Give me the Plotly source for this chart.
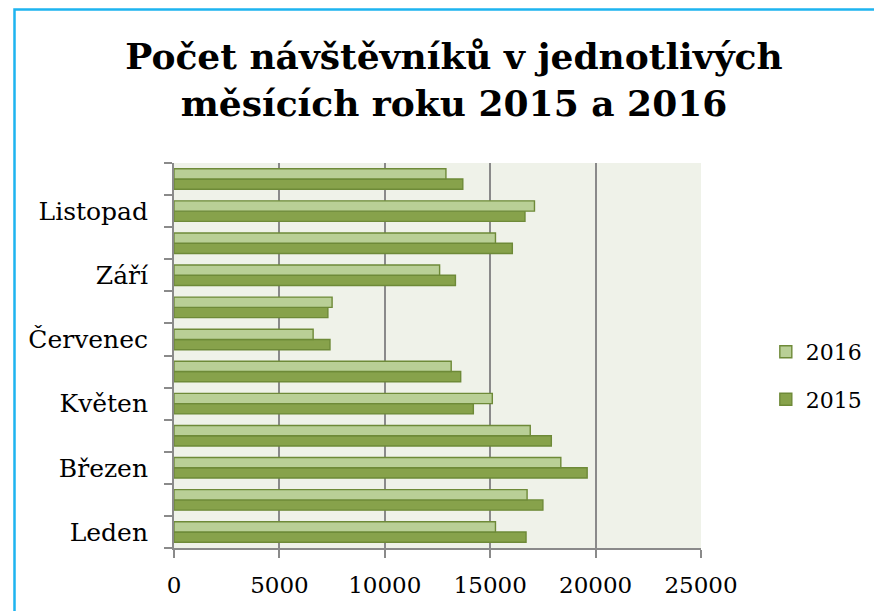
import plotly.graph_objects as go

months = ["Leden", "Únor", "Březen", "Duben", "Květen", "Červen",
          "Červenec", "Srpen", "Září", "Říjen", "Listopad", "Prosinec"]
tick_text = ["Leden", "", "Březen", "", "Květen", "",
             "Červenec", "", "Září", "", "Listopad", ""]
v2015 = [16700, 17500, 19600, 17900, 14200, 13600,
         7400, 7300, 13350, 16050, 16650, 13700]
v2016 = [15250, 16750, 18350, 16900, 15100, 13150,
         6600, 7500, 12600, 15250, 17100, 12900]
x_ticks = [0, 5000, 10000, 15000, 20000, 25000]

light = "#B9CF96"
dark = "#87A24B"
edge = "#6E8A38"
grid = "#8A8A8A"
FONT = "DejaVu Serif"

fig = go.Figure()
fig.add_trace(go.Bar(y=months, x=v2015, orientation="h", name="2015",
                     marker=dict(color=dark, line=dict(color=edge, width=1.4)),
                     legendgroup="g2015", legendrank=2))
fig.add_trace(go.Bar(y=months, x=v2016, orientation="h", name="2016",
                     marker=dict(color=light, line=dict(color=edge, width=1.4)),
                     legendgroup="g2016", legendrank=1))

fig.update_layout(
    width=874, height=611,
    margin=dict(l=174, r=173, t=163, b=63, autoexpand=False),
    paper_bgcolor="white", plot_bgcolor="#EFF2E9",
    barmode="group", bargap=0.36, bargroupgap=0.0,
    font=dict(family=FONT, color="black", size=22),
    title=dict(text="<b>Počet návštěvníků v jednotlivých<br>měsících roku 2015 a 2016</b>",
               x=454 / 874, xanchor="center", xref="container",
               y=1 - 69 / 611, yanchor="middle", yref="container",
               font=dict(family=FONT, size=36, color="black")),
    legend=dict(x=1.123, xanchor="left", y=0.447, yanchor="middle",
                traceorder="grouped", tracegroupgap=16,
                font=dict(size=22, family=FONT), bgcolor="rgba(0,0,0,0)"),
    xaxis=dict(range=[0, 25000], tickvals=x_ticks, ticktext=[str(v) for v in x_ticks],
               automargin=False,
               showgrid=True, gridcolor=grid, gridwidth=1.5,
               showline=True, linecolor=grid, linewidth=2,
               ticks="outside", ticklen=8, tickcolor=grid, tickwidth=1.5,
               ticklabelstandoff=7, zeroline=False,
               tickfont=dict(size=23, family=FONT)),
    yaxis=dict(type="category", categoryorder="array", categoryarray=months,
               tickvals=months, ticktext=tick_text, tickson="boundaries",
               range=[-0.5, 11.5], automargin=False,
               showgrid=False, showline=True, linecolor=grid, linewidth=2,
               ticks="outside", ticklen=8, tickcolor=grid, tickwidth=1.5,
               ticklabelstandoff=19,
               tickfont=dict(size=25, family=FONT)),
    shapes=[dict(type="rect", xref="paper", yref="paper",
                 x0=(14.5 - 174) / 527, x1=2.0,
                 y0=-1.0, y1=(548 - 9.5) / 385,
                 line=dict(color="#1EB4F0", width=2.5), fillcolor="rgba(0,0,0,0)",
                 layer="below")],
)

fig.write_html("out.html", config={"displayModeBar": False},
               post_script="document.body.style.margin='0px';document.body.style.overflow='hidden';")
